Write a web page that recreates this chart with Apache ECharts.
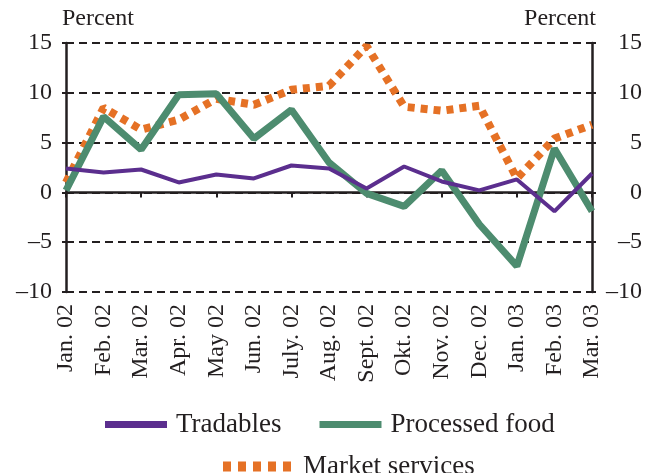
<!DOCTYPE html>
<html>
<head>
<meta charset="utf-8">
<script src="https://cdn.jsdelivr.net/npm/echarts@6/dist/echarts.min.js"></script>
<style>
  html, body { margin: 0; padding: 0; background: #fff; }
  #chart { width: 655px; height: 473px; }
</style>
</head>
<body>
<div id="chart"></div>
<script>
// months on the x axis
var months = ['Jan. 02', 'Feb. 02', 'Mar. 02', 'Apr. 02', 'May 02', 'Jun. 02', 'July. 02',
  'Aug. 02', 'Sept. 02', 'Okt. 02', 'Nov. 02', 'Dec. 02', 'Jan. 03', 'Feb. 03', 'Mar. 03'];

var tradables = [2.4, 2.0, 2.3, 1.0, 1.8, 1.4, 2.7, 2.4, 0.4, 2.6, 1.1, 0.2, 1.3, -1.9, 1.9];
var processedFood = [0.2, 7.6, 4.3, 9.8, 9.9, 5.4, 8.3, 3.0, -0.1, -1.4, 2.2, -3.2, -7.4, 4.4, -1.9];
var marketServices = [1.0, 8.5, 6.3, 7.3, 9.4, 8.8, 10.3, 10.7, 14.7, 8.6, 8.2, 8.7, 1.4, 5.4, 6.8];

var yTicks = { min: -10, max: 15, interval: 5 };

var font = 'Liberation Serif';
var ink = '#231f20';

var chart = echarts.init(document.getElementById('chart'));

function yAxisDef(side) {
  var left = side == 'left';
  return {
    type: 'value',
    position: side,
    min: yTicks.min,
    max: yTicks.max,
    interval: yTicks.interval,
    name: 'Percent',
    nameLocation: 'end',
    nameGap: 12,
    nameTextStyle: {
      color: ink, fontFamily: font, fontSize: 24,
      align: left ? 'left' : 'right',
      padding: left ? [0, 0, 0, -4] : [0, -4, 0, 0]
    },
    axisLine: { show: true, lineStyle: { color: ink, width: 2.5 } },
    axisTick: { show: true, length: 4, lineStyle: { color: ink, width: 2 } },
    axisLabel: {
      color: ink, fontFamily: font, fontSize: 24,
      margin: left ? 14 : 50,
      align: 'right',
      formatter: function (v) { return v < 0 ? '\u2013' + Math.abs(v) : String(v); }
    },
    splitLine: {
      show: left,
      lineStyle: { color: ink, width: 2, type: [8, 5] }
    }
  };
}

chart.setOption({
  animation: false,
  grid: { left: 66, right: 63, top: 43, bottom: 181 },
  legend: [{
    data: [
      { name: 'Tradables', icon: 'rect' },
      { name: 'Processed food', icon: 'rect' }
    ],
    left: 100,
    top: 406,
    itemWidth: 62,
    itemHeight: 7,
    itemGap: 38,
    textStyle: { color: ink, fontFamily: font, fontSize: 27, padding: [0, 0, 0, 4] }
  }, {
    data: [{
      name: 'Market services',
      icon: 'path://M0,0h8v10h-8zM15,0h8v10h-8zM30,0h8v10h-8zM45,0h8v10h-8zM60,0h8v10h-8z'
    }],
    left: 218,
    top: 448,
    itemWidth: 70,
    itemHeight: 10,
    textStyle: { color: ink, fontFamily: font, fontSize: 27, padding: [0, 0, 0, 6] }
  }],
  xAxis: [{
    type: 'category',
    data: months,
    boundaryGap: false,
    axisLine: { onZero: true, lineStyle: { color: ink, width: 2.5 } },
    axisTick: { show: true, length: 5, lineStyle: { color: ink, width: 2 } },
    axisLabel: { show: false }
  }, {
    type: 'category',
    data: months,
    boundaryGap: false,
    position: 'bottom',
    axisLine: { show: false, onZero: false },
    axisTick: { show: false },
    axisLabel: {
      rotate: 90, interval: 0, margin: 12,
      color: ink, fontFamily: font, fontSize: 24
    }
  }],
  yAxis: [yAxisDef('left'), yAxisDef('right')],
  series: [{
    name: 'Market services',
    type: 'line',
    data: marketServices,
    symbol: 'none',
    color: '#e57125',
    lineStyle: { width: 8, type: [7, 6], cap: 'butt', color: '#e57125' },
    z: 2
  }, {
    name: 'Processed food',
    type: 'line',
    data: processedFood,
    symbol: 'none',
    color: '#4d8c6f',
    lineStyle: { width: 7, color: '#4d8c6f' },
    z: 3
  }, {
    name: 'Tradables',
    type: 'line',
    data: tradables,
    symbol: 'none',
    color: '#5b2e8e',
    lineStyle: { width: 4, color: '#5b2e8e' },
    z: 4
  }]
});
</script>
</body>
</html>
